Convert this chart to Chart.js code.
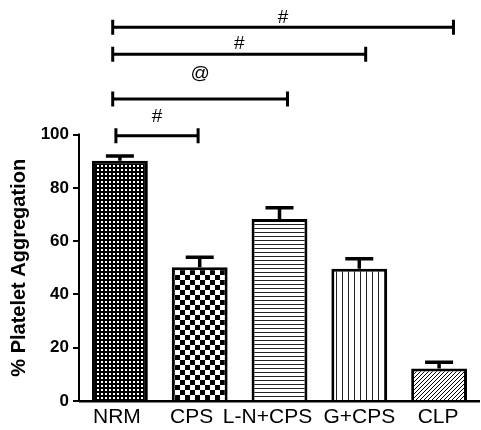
<!DOCTYPE html>
<html>
<head>
<meta charset="utf-8">
<script src="https://cdn.jsdelivr.net/npm/chart.js@4.4.1/dist/chart.umd.min.js"></script>
<style>
  html, body { margin: 0; padding: 0; background: #fff; }
  canvas { display: block; }
</style>
</head>
<body>
<canvas id="myChart" width="481" height="430"></canvas>
<script>
'use strict'

// groups and values (% platelet aggregation, mean and SEM)
const categories = ['NRM', 'CPS', 'L-N+CPS', 'G+CPS', 'CLP'];
const aggregation = [90.2, 50.2, 68.3, 49.6, 12.2];
const sem = [1.8, 3.8, 4.2, 3.8, 2.3];
const yTicks = [0, 20, 40, 60, 80, 100];

// significance brackets (category index from/to, level in % units)
const bracketFrom = [-0.05, -0.09, -0.09, -0.09];
const bracketTo = [0.98, 2.1, 3.08, 4.18];
const bracketLevel = [99.6, 113.4, 130.2, 140.3];
const bracketMark = ['#', '@', '#', '#'];

const FONT = "'Liberation Sans', Arial, sans-serif";

// fill patterns like the GraphPad bars
function makePattern(kind) {
    const c = document.createElement('canvas');
    const g = c.getContext('2d');
    if (kind === 'dots') {
        c.width = 4; c.height = 4;
        g.fillStyle = '#000'; g.fillRect(0, 0, 4, 4);
        g.fillStyle = '#fff'; g.fillRect(1, 1, 2, 2);
    } else if (kind === 'check') {
        c.width = 10; c.height = 10;
        g.fillStyle = '#fff'; g.fillRect(0, 0, 10, 10);
        g.fillStyle = '#000';
        g.fillRect(0, 0, 5, 5); g.fillRect(5, 5, 5, 5);
    } else if (kind === 'hlines') {
        c.width = 4; c.height = 4;
        g.fillStyle = '#fff'; g.fillRect(0, 0, 4, 4);
        g.fillStyle = '#222'; g.fillRect(0, 0, 4, 1);
    } else if (kind === 'vlines') {
        c.width = 6; c.height = 6;
        g.fillStyle = '#fff'; g.fillRect(0, 0, 6, 6);
        g.fillStyle = '#222'; g.fillRect(0, 0, 1, 6);
    } else {
        c.width = 4; c.height = 4;
        g.fillStyle = '#fff'; g.fillRect(0, 0, 4, 4);
        g.strokeStyle = '#000'; g.lineWidth = 1;
        g.beginPath();
        g.moveTo(-1, 5); g.lineTo(5, -1);
        g.moveTo(-1, 1); g.lineTo(1, -1);
        g.moveTo(3, 5); g.lineTo(5, 3);
        g.stroke();
    }
    return document.createElement('canvas').getContext('2d').createPattern(c, 'repeat');
}

const fills = ['dots', 'check', 'hlines', 'vlines', 'diag'].map(makePattern);

const extras = {
    id: 'extras',
    afterDatasetsDraw(chart) {
        const ctx = chart.ctx;
        const x = chart.scales.x;
        const y = chart.scales.y;
        const meta = chart.getDatasetMeta(0);
        ctx.save();
        ctx.strokeStyle = '#000';
        ctx.fillStyle = '#000';
        ctx.lineCap = 'butt';

        // error bars (upper only)
        meta.data.forEach((bar, i) => {
            const top = y.getPixelForValue(aggregation[i]);
            const hi = y.getPixelForValue(aggregation[i] + sem[i]);
            ctx.lineWidth = 3.5;
            ctx.beginPath();
            ctx.moveTo(bar.x, top);
            ctx.lineTo(bar.x, hi);
            ctx.moveTo(bar.x - 14, hi);
            ctx.lineTo(bar.x + 14, hi);
            ctx.stroke();
        });

        // y axis line only over 0..100
        ctx.lineWidth = 2;
        ctx.beginPath();
        ctx.moveTo(chart.chartArea.left - 1, y.getPixelForValue(0));
        ctx.lineTo(chart.chartArea.left - 1, y.getPixelForValue(100) - 1);
        ctx.stroke();

        // category labels, nudged apart as in the original figure
        const shift = [-3, -8, -12, 0, -1];
        ctx.font = '21px ' + FONT;
        ctx.textAlign = 'center';
        ctx.textBaseline = 'middle';
        categories.forEach((lab, i) => {
            ctx.fillText(lab, x.getPixelForTick(i) + shift[i], chart.chartArea.bottom + 16);
        });

        // brackets
        const lift = [19, 25, 10, 9];
        ctx.font = '19px ' + FONT;
        bracketLevel.forEach((lv, i) => {
            const py = y.getPixelForValue(lv);
            const x1 = x.getPixelForValue(bracketFrom[i]);
            const x2 = x.getPixelForValue(bracketTo[i]);
            ctx.lineWidth = 3;
            ctx.beginPath();
            ctx.moveTo(x1, py); ctx.lineTo(x2, py);
            ctx.moveTo(x1, py - 7.5); ctx.lineTo(x1, py + 7.5);
            ctx.moveTo(x2, py - 7.5); ctx.lineTo(x2, py + 7.5);
            ctx.stroke();
            ctx.fillText(bracketMark[i], (x1 + x2) / 2, py - lift[i]);
        });

        // y axis title, centred on the 0..100 range
        const mid = (y.getPixelForValue(0) + y.getPixelForValue(100)) / 2;
        ctx.translate(19, mid);
        ctx.rotate(-Math.PI / 2);
        ctx.font = 'bold 20px ' + FONT;
        ctx.fillText('% Platelet Aggregation', 0, 0);
        ctx.restore();
    }
};

const ctx = document.getElementById('myChart');
window.myChart = new Chart(ctx, {
    type: 'bar',
    data: {
        labels: categories,
        datasets: [{
            data: aggregation,
            backgroundColor: fills,
            borderColor: '#000',
            borderWidth: 3,
            borderSkipped: 'start',
            barPercentage: 0.7,
            categoryPercentage: 1
        }]
    },
    options: {
        responsive: false,
        animation: false,
        layout: { padding: { top: 4, right: 2, left: 0, bottom: 0 } },
        plugins: { legend: { display: false }, tooltip: { enabled: false } },
        scales: {
            x: {
                grid: { display: false },
                border: { display: true, color: '#000', width: 2.5 },
                ticks: { display: false },
                afterFit(scale) { scale.height = 29; }
            },
            y: {
                min: 0,
                max: 145.2,
                afterBuildTicks(scale) { scale.ticks = yTicks.map(v => ({ value: v })); },
                grid: { display: true, drawOnChartArea: false, drawTicks: true, tickLength: 7, color: '#000', lineWidth: 2 },
                border: { display: false },
                ticks: { color: '#000', font: { family: FONT, size: 17, weight: 'bold' }, padding: 4 },
                afterFit(scale) { scale.width = 80; }
            }
        }
    },
    plugins: [extras]
});
</script>
</body>
</html>
